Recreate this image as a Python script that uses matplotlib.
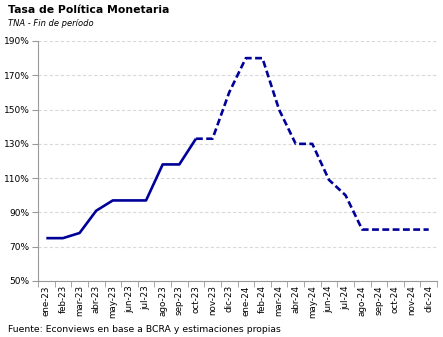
import matplotlib
matplotlib.use("Agg")
import matplotlib.pyplot as plt
from matplotlib.ticker import FuncFormatter

months = ["ene-23","feb-23","mar-23","abr-23","may-23","jun-23","jul-23","ago-23","sep-23","oct-23","nov-23","dic-23",
          "ene-24","feb-24","mar-24","abr-24","may-24","jun-24","jul-24","ago-24","sep-24","oct-24","nov-24","dic-24"]
rate = [75, 75, 78, 91, 97, 97, 97, 118, 118, 133, 133, 160,
        180, 180, 150, 130, 130, 109, 100, 80, 80, 80, 80, 80]
last_actual = 9  # oct-23; projection dashed afterwards

color = "#000099"
fig = plt.figure(figsize=(4.43, 3.37), dpi=100)
ax = fig.add_axes([38/443, 1-281/337, (437-38)/443, (281-41)/337])

x = list(range(len(months)))
ax.plot(x[:last_actual+1], rate[:last_actual+1], color=color, lw=1.9, solid_capstyle="butt", zorder=3)
ax.plot(x[last_actual:], rate[last_actual:], color=color, lw=1.9, ls=(0, (2.6, 1.3)), zorder=3)

ax.set_xlim(-0.5, len(months)-0.5)
ax.set_ylim(50, 190)
ax.set_yticks(range(50, 191, 20))
ax.yaxis.set_major_formatter(FuncFormatter(lambda v, p: f"{int(v)}%"))
ax.set_xticks(x)
ax.set_xticklabels(months, rotation=90, fontsize=6.3)
ax.set_xticks([i-0.5 for i in range(len(months)+1)], minor=True)
ax.tick_params(axis="x", which="major", length=0, pad=3)
ax.tick_params(axis="x", which="minor", length=4, color="#999999")
ax.tick_params(axis="y", length=4, color="#999999", labelsize=6.5, pad=2)
ax.grid(axis="y", color="#d9d9d9", ls=(0, (3, 2)), lw=0.8)
ax.set_axisbelow(True)
for s in ["top", "right"]:
    ax.spines[s].set_visible(False)
for s in ["left", "bottom"]:
    ax.spines[s].set_color("#999999")
    ax.spines[s].set_linewidth(0.8)

fig.text(8/443, 1-10/337, "Tasa de Política Monetaria", fontsize=7.8, fontweight="bold", va="center", ha="left")
fig.text(8/443, 1-24/337, "TNA - Fin de período", fontsize=6.0, style="italic", va="center", ha="left")
fig.text(8/443, 1-329/337, "Fuente: Econviews en base a BCRA y estimaciones propias", fontsize=6.7, va="center", ha="left")

fig.savefig("out.png", dpi=100)
